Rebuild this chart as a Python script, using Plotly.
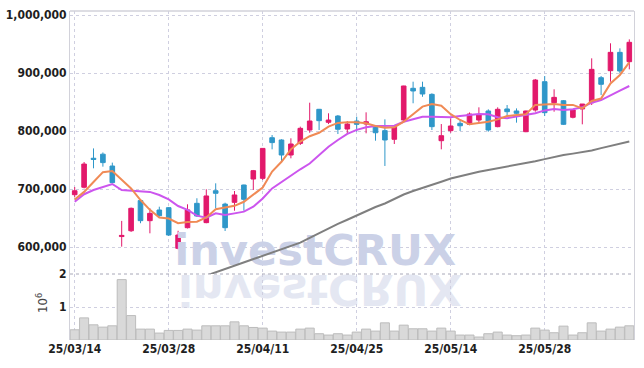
import base64
import plotly.graph_objects as go

dates = ["25/03/14", "25/03/17", "25/03/18", "25/03/19", "25/03/20", "25/03/21",
         "25/03/24", "25/03/25", "25/03/26", "25/03/27", "25/03/28",
         "25/03/31", "25/04/01", "25/04/02", "25/04/03", "25/04/04",
         "25/04/07", "25/04/08", "25/04/09", "25/04/10", "25/04/11",
         "25/04/14", "25/04/15", "25/04/16", "25/04/17", "25/04/18",
         "25/04/21", "25/04/22", "25/04/23", "25/04/24", "25/04/25",
         "25/04/28", "25/04/29", "25/04/30", "25/05/02",
         "25/05/07", "25/05/08", "25/05/09",
         "25/05/12", "25/05/13", "25/05/14", "25/05/15", "25/05/16",
         "25/05/19", "25/05/20", "25/05/21", "25/05/22", "25/05/23",
         "25/05/26", "25/05/27", "25/05/28", "25/05/29", "25/05/30",
         "25/06/02", "25/06/04", "25/06/05",
         "25/06/09", "25/06/10", "25/06/11", "25/06/12"]

open_ = [690200, 703000, 753000, 760000, 739600, 618000, 628000, 680000, 645400, 663800,
         667800, 597700, 633300, 675300, 642000, 697000, 674000, 677000, 706900, 717200,
         718400, 788400, 784500, 758600, 778700, 801700, 837400, 815000, 825800, 803400,
         817200, 812000, 809000, 800600, 785700, 819000, 873600, 875300, 863200, 783300,
         800600, 813300, 811500, 818900, 834500, 807500, 838000, 834500, 798800, 836200,
         885000, 848800, 852200, 823600, 838000, 848800, 891900, 904000, 935600, 919500]
high = [703400, 746500, 770000, 763000, 745500, 645000, 668000, 682000, 666700, 669500,
        669000, 628000, 673600, 684000, 699500, 709800, 676400, 696500, 707500, 732800,
        770000, 793000, 785700, 787400, 807500, 848800, 838000, 830500, 827600, 817200,
        824700, 832200, 810300, 820100, 807500, 878000, 885000, 885000, 865000, 812000,
        822000, 819000, 832000, 840800, 837400, 840800, 844800, 839000, 835000, 889700,
        894800, 871900, 853400, 837000, 846500, 925300, 894800, 951200, 942500, 958000]
low = [686200, 701000, 735700, 738500, 710000, 600600, 626000, 641000, 623600, 652300,
       619000, 596000, 632000, 652000, 641000, 666700, 627600, 662600, 662600, 698300,
       715500, 768400, 747000, 752900, 775900, 797000, 801700, 812000, 794800, 794800,
       798800, 796000, 783300, 739700, 777600, 817000, 847800, 859000, 801700, 768400,
       797000, 800000, 810000, 814400, 798800, 806400, 825800, 814400, 798000, 833300,
       825800, 833300, 810300, 821800, 811500, 844800, 862000, 885000, 899500, 906300]
close = [697000, 743000, 751000, 745500, 711000, 620000, 666700, 645400, 658000, 654000,
         620700, 620700, 664000, 653400, 688000, 692600, 633300, 689700, 682200, 731600,
         770000, 780000, 758600, 777600, 804600, 817200, 817800, 818900, 803000, 812000,
         811500, 816000, 797000, 784500, 806400, 877600, 869000, 863800, 807500, 791900,
         808600, 809000, 829300, 827600, 801700, 837400, 833300, 830500, 834500, 887900,
         831600, 858000, 811500, 836200, 846500, 906300, 880500, 935600, 903400, 952900]

volume = [310000, 670000, 460000, 390000, 430000, 1830000, 740000, 330000, 330000, 210000,
          290000, 290000, 330000, 300000, 430000, 430000, 430000, 550000, 430000, 380000,
          360000, 270000, 240000, 240000, 330000, 360000, 190000, 150000, 190000, 150000,
          240000, 330000, 270000, 520000, 270000, 450000, 340000, 340000, 270000, 360000,
          270000, 150000, 150000, 90000, 190000, 240000, 150000, 130000, 150000, 360000,
          300000, 220000, 420000, 150000, 220000, 520000, 270000, 330000, 390000, 430000]

ma_short = [682000, 695000, 712000, 729000, 731000, 715500, 701000, 681000, 664000, 651000,
            649000, 641000, 643000, 643700, 651000, 665000, 667800, 671000, 678000, 689700,
            702500, 730000, 747000, 768400, 781600, 791000, 797000, 807500, 814000, 815000,
            815000, 813300, 808600, 805700, 806400, 816000, 829300, 842000, 846500, 843700,
            829000, 819000, 811500, 813300, 816000, 820000, 825800, 827600, 828800, 845000,
            845500, 846500, 845000, 845000, 839000, 851700, 856000, 882000, 896600, 918400]
ma_mid = [678000, 691000, 698300, 704000, 708600, 698300, 697000, 695000, 695000, 689700,
          682000, 670700, 664000, 654000, 650500, 658000, 655000, 658000, 661000, 669500,
          683700, 701000, 712000, 724000, 734000, 744000, 758600, 773000, 784500, 795000,
          802000, 806400, 808600, 809000, 809000, 816000, 820700, 824700, 824700, 823600,
          823600, 825800, 827600, 829300, 829000, 823600, 822000, 824700, 827600, 830500,
          835500, 838000, 836200, 837400, 840800, 848800, 853400, 862000, 869500, 877600]
ma_long = [None] * 13 + [545000, 550700, 556300, 562000, 567500, 573000, 578800,
           584400, 590000, 595500, 601400, 607500, 615700, 624000, 632000, 639800, 647000,
           654400, 661700, 669000, 675000, 683000, 690500, 696500, 702300, 707500, 712600,
           718000, 722000, 726000, 729800, 732600, 735500, 738300, 741200, 744600, 748000,
           751500, 755500, 758500, 761000, 763600, 766300, 770500, 774500, 778500, 782000]

price_ticks = [600000, 700000, 800000, 900000, 1000000]
vol_ticks = [1000000, 2000000]
vol_tick_text = ["1", "2"]
label_every = 10

idx = list(range(len(dates)))
tick_idx = idx[::label_every]
tick_txt = dates[::label_every]

UP = "#e2196b"
DOWN = "#2f97c9"
GRID = "#cfcfe0"
FONT_FAMILY = "Liberation Sans Narrow, DejaVu Sans Condensed, sans-serif"
TICKFONT = dict(family=FONT_FAMILY, size=12, color="#1e1e1e", weight="bold")

fig = go.Figure()

# watermark (drawn first so all marks sit on top)
fig.add_trace(go.Scatter(x=[25.6], y=[587000], mode="text", text=["<b>investCRUX</b>"],
                         textposition="middle center",
                         textfont=dict(family="DejaVu Sans", size=43, color="#cbd1e7"),
                         hoverinfo="skip", showlegend=False, cliponaxis=False,
                         xaxis="x", yaxis="y"))

fig.add_trace(go.Candlestick(x=idx, open=open_, high=high, low=low, close=close,
                             increasing=dict(line=dict(color=UP, width=1), fillcolor=UP),
                             decreasing=dict(line=dict(color=DOWN, width=1), fillcolor=DOWN),
                             whiskerwidth=0, showlegend=False, xaxis="x", yaxis="y"))

fig.add_trace(go.Scatter(x=idx, y=ma_long, mode="lines", line=dict(color="#7f7f7f", width=2),
                         showlegend=False, xaxis="x", yaxis="y"))
fig.add_trace(go.Scatter(x=idx, y=ma_mid, mode="lines", line=dict(color="#cc55ee", width=2),
                         showlegend=False, xaxis="x", yaxis="y"))
fig.add_trace(go.Scatter(x=idx, y=ma_short, mode="lines", line=dict(color="#f08a55", width=2),
                         showlegend=False, xaxis="x", yaxis="y"))

fig.add_trace(go.Bar(x=idx, y=volume, marker=dict(color="#d9d9d9", line=dict(color="#bcbcbc", width=1)),
                     showlegend=False, xaxis="x2", yaxis="y2"))

split = (340 - 274) / 329

axis_common = dict(showgrid=True, gridcolor=GRID, griddash="dot", gridwidth=1, zeroline=False,
                   automargin=False)

fig.update_layout(
    width=644, height=368,
    margin=dict(l=70, r=10, t=11, b=28, autoexpand=False),
    paper_bgcolor="white", plot_bgcolor="rgba(0,0,0,0)",
    bargap=0.04,
    xaxis=dict(domain=[0, 1], anchor="y", range=[-0.5, 59.5], tickvals=tick_idx,
               showticklabels=False, ticks="", rangeslider=dict(visible=False),
               matches="x2", **axis_common),
    yaxis=dict(domain=[split, 1], anchor="x", range=[553450, 1006900], tickvals=price_ticks,
               tickformat=",d", tickfont=TICKFONT, showline=True, linecolor="#d2d2da",
               mirror=True, ticks="", **axis_common),
    xaxis2=dict(domain=[0, 1], anchor="y2", range=[-0.5, 59.5], tickvals=tick_idx, ticktext=tick_txt,
                tickfont=TICKFONT, ticks="", **axis_common),
    yaxis2=dict(domain=[0, split], anchor="x2", range=[0, 2000000], tickvals=vol_ticks,
                ticktext=vol_tick_text, tickfont=TICKFONT, showline=True, linecolor="#d2d2da",
                mirror=True, ticks="", **axis_common),
    hovermode=False,
)

# top border and panel separator
fig.add_shape(type="line", xref="paper", yref="paper", x0=0, x1=1, y0=1, y1=1,
              line=dict(color="#d2d2da", width=1.5))
fig.add_shape(type="line", xref="paper", yref="paper", x0=0, x1=1, y0=split, y1=split,
              line=dict(color="#a8a8b8", width=1, dash="dot"))

fig.add_annotation(text="10<sup>6</sup>", textangle=-90, xref="paper", yref="paper",
                   x=(42 - 70) / 564, y=(340 - 303) / 329, xanchor="center", yanchor="middle",
                   showarrow=False, font=dict(family=FONT_FAMILY, size=13, color="#444444"))

# faded reflection of the watermark
svg = ('<svg xmlns="http://www.w3.org/2000/svg" width="300" height="60" viewBox="0 0 300 60">'
       '<text x="8" y="-1" transform="scale(1,-1)" font-family="DejaVu Sans" font-weight="bold" '
       'font-size="43" fill="#e4e7f2" textLength="284" lengthAdjust="spacingAndGlyphs">investCRUX</text></svg>')
src = "data:image/svg+xml;base64," + base64.b64encode(svg.encode()).decode()
fig.add_layout_image(dict(source=src, xref="paper", yref="paper",
                          x=(170 - 70) / 564, y=(340 - 273.5) / 329,
                          sizex=300 / 564, sizey=60 / 329, sizing="stretch",
                          xanchor="left", yanchor="top", layer="below"))

fig.write_html("out.html", config={"displayModeBar": False},
               post_script="document.body.style.margin='0';document.body.style.padding='0';")
